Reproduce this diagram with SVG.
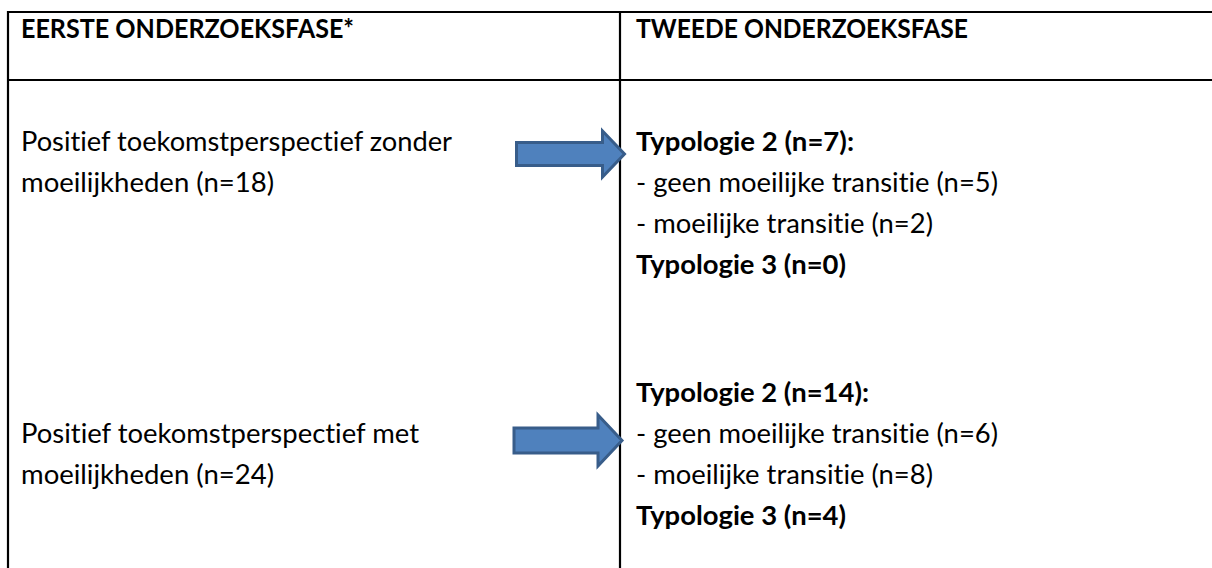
<svg xmlns="http://www.w3.org/2000/svg" width="1212" height="568" viewBox="0 0 1212 568">
  <style>
    .grid { stroke: #000; stroke-width: 2.2; fill: none; }
    .t { font-family: Lato, "Open Sans", "Liberation Sans", sans-serif; font-size: 27px; fill: #000; font-variant-ligatures: none; font-feature-settings: "liga" 0, "dlig" 0; }
    .b { font-weight: bold; }
    .arrow { fill: #4f81bd; stroke: #385d8a; stroke-width: 3; stroke-linejoin: miter; }
  </style>
  <rect width="1212" height="568" fill="#fff"/>

  <!-- table grid -->
  <g id="table">
    <line class="grid" x1="8" y1="12" x2="1212" y2="12"/>
    <line class="grid" x1="8" y1="80" x2="1212" y2="80"/>
    <line class="grid" x1="8" y1="11" x2="8" y2="568"/>
    <line class="grid" x1="620" y1="11" x2="620" y2="568"/>
  </g>

  <!-- column headers -->
  <g id="header-left">
    <text class="t b" x="21" y="38" textLength="333" lengthAdjust="spacingAndGlyphs">EERSTE ONDERZOEKSFASE*</text>
  </g>
  <g id="header-right">
    <text class="t b" x="636" y="38" textLength="332" lengthAdjust="spacingAndGlyphs">TWEEDE ONDERZOEKSFASE</text>
  </g>

  <!-- first phase groups -->
  <g id="phase1-without">
    <text class="t" x="21" y="151" textLength="431" lengthAdjust="spacingAndGlyphs">Positief toekomstperspectief zonder</text>
    <text class="t" x="21" y="192" textLength="253" lengthAdjust="spacingAndGlyphs">moeilijkheden (n=18)</text>
  </g>
  <g id="phase1-with">
    <text class="t" x="21" y="443" textLength="398" lengthAdjust="spacingAndGlyphs">Positief toekomstperspectief met</text>
    <text class="t" x="21" y="484" textLength="253" lengthAdjust="spacingAndGlyphs">moeilijkheden (n=24)</text>
  </g>

  <!-- second phase typologies -->
  <g id="phase2-a">
    <text class="t b" x="636" y="151" textLength="218" lengthAdjust="spacingAndGlyphs">Typologie 2 (n=7):</text>
    <text class="t" x="636" y="192" textLength="362" lengthAdjust="spacingAndGlyphs">- geen moeilijke transitie (n=5)</text>
    <text class="t" x="636" y="233" textLength="297" lengthAdjust="spacingAndGlyphs">- moeilijke transitie (n=2)</text>
    <text class="t b" x="636" y="274" textLength="210" lengthAdjust="spacingAndGlyphs">Typologie 3 (n=0)</text>
  </g>
  <g id="phase2-b">
    <text class="t b" x="636" y="402" textLength="233" lengthAdjust="spacingAndGlyphs">Typologie 2 (n=14):</text>
    <text class="t" x="636" y="443" textLength="362" lengthAdjust="spacingAndGlyphs">- geen moeilijke transitie (n=6)</text>
    <text class="t" x="636" y="484" textLength="297" lengthAdjust="spacingAndGlyphs">- moeilijke transitie (n=8)</text>
    <text class="t b" x="636" y="525" textLength="210" lengthAdjust="spacingAndGlyphs">Typologie 3 (n=4)</text>
  </g>

  <!-- block arrows -->
  <g id="connectors">
    <polygon class="arrow" points="516.5,142.5 602.5,142.5 602.5,131 624.5,154 602.5,177 602.5,165.5 516.5,165.5"/>
    <polygon class="arrow" points="514,428 598,428 598,415 622,440.5 598,466 598,453 514,453"/>
  </g>
</svg>
